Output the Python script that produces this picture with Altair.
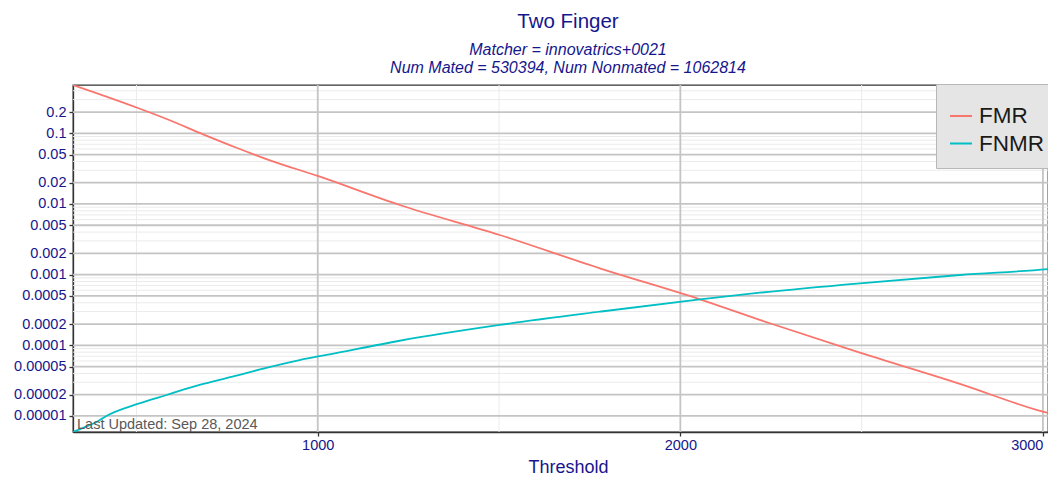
import altair as alt
import pandas as pd

# ---- data ----
fmr_threshold = [325, 504, 592, 684, 776, 868, 1000, 1226, 1502, 1778, 2054, 2247, 2495,
                 2771, 3000, 3036, 3055]
fmr_value = [0.482, 0.228, 0.153, 0.0968, 0.0625, 0.0415, 0.0249, 0.00967, 0.00364,
             0.00123, 0.000448, 0.000205, 0.0000786, 0.0000284, 0.0000115, 0.0000103, 0.0000094]

fnmr_threshold = [325, 352, 390, 417, 503, 583, 674, 765, 858, 950, 1033, 1226, 1502, 1778,
                  2054, 2219, 2495, 2771, 3036, 3055]
fnmr_value = [0.00000595, 0.00000676, 0.00000822, 0.0000100, 0.0000148, 0.0000198, 0.0000275,
              0.0000360, 0.0000480, 0.0000619, 0.0000746, 0.000116, 0.000194, 0.000299,
              0.000448, 0.000555, 0.000754, 0.000988, 0.00123, 0.00126]

series_names = ["FMR", "FNMR"]
series_colors = ["#F8766D", "#00BFC4"]

y_tick_values = [0.00001, 0.00002, 0.00005, 0.0001, 0.0002, 0.0005, 0.001, 0.002,
                 0.005, 0.01, 0.02, 0.05, 0.1, 0.2]
y_minor_values = [0.00003, 0.00004, 0.00006, 0.00007, 0.00008, 0.00009,
                  0.0003, 0.0004, 0.0006, 0.0007, 0.0008, 0.0009,
                  0.003, 0.004, 0.006, 0.007, 0.008, 0.009,
                  0.03, 0.04, 0.06, 0.07, 0.08, 0.09,
                  0.3, 0.4]
x_tick_values = [1000, 2000, 3000]
x_minor_values = [500, 1500, 2500]

x_domain = [325, 3014]
y_domain = [0.00000593, 0.4826]

title_text = "Two Finger"
subtitle_lines = ["Matcher = innovatrics+0021", "Num Mated = 530394, Num Nonmated = 1062814"]
footnote = ["Last Updated: Sep 28, 2024"]

FONT = "Liberation Sans"
NAVY = "#16168c"

df = pd.concat([
    pd.DataFrame({"threshold": fmr_threshold, "value": fmr_value, "series": "FMR"}),
    pd.DataFrame({"threshold": fnmr_threshold, "value": fnmr_value, "series": "FNMR"}),
])

xscale = alt.Scale(domain=x_domain, nice=False, zero=False)
yscale = alt.Scale(type="log", domain=y_domain, nice=False)

x_axis = alt.Axis(values=x_tick_values, format="d", grid=False, title="Threshold",
                  labelFont=FONT, labelFontSize=14.5, labelColor=NAVY, labelPadding=2,
                  labelFlush=15,
                  tickColor="#333333", tickSize=4, tickWidth=1.3,
                  domainColor="#333333", domainWidth=1.3,
                  titleFont=FONT, titleFontSize=18, titleFontWeight="normal",
                  titleColor=NAVY, titlePadding=7, titleX=495)
y_axis = alt.Axis(values=y_tick_values, format=".5~f", grid=False, title=None,
                  labelFont=FONT, labelFontSize=14.5, labelColor=NAVY, labelPadding=3,
                  tickColor="#333333", tickSize=4, tickWidth=1.3,
                  domainColor="#333333", domainWidth=1.3)

minor_y = alt.Chart(pd.DataFrame({"v": y_minor_values})).mark_rule(
    color="#ebebeb", strokeWidth=1).encode(y=alt.Y("v:Q", scale=yscale, axis=y_axis))
minor_x = alt.Chart(pd.DataFrame({"t": x_minor_values})).mark_rule(
    color="#ebebeb", strokeWidth=1).encode(x=alt.X("t:Q", scale=xscale, axis=x_axis))
major_y = alt.Chart(pd.DataFrame({"v": y_tick_values})).mark_rule(
    color="#c4c4c4", strokeWidth=1.8).encode(y=alt.Y("v:Q", scale=yscale, axis=y_axis))
major_x = alt.Chart(pd.DataFrame({"t": x_tick_values})).mark_rule(
    color="#c4c4c4", strokeWidth=1.8).encode(x=alt.X("t:Q", scale=xscale, axis=x_axis))

lines = alt.Chart(df).mark_line(strokeWidth=1.8, clip=True, interpolate="monotone").encode(
    x=alt.X("threshold:Q", scale=xscale, axis=x_axis),
    y=alt.Y("value:Q", scale=yscale, axis=y_axis),
    color=alt.Color("series:N", scale=alt.Scale(domain=series_names, range=series_colors),
                    legend=alt.Legend(title=" ", orient="none", legendX=863, legendY=-1,
                                      fillColor="#e5e5e5", strokeColor="#b8b8b8",
                                      padding=13, symbolType="stroke", symbolSize=484,
                                      symbolStrokeWidth=2, labelFont=FONT, labelFontSize=22.5,
                                      labelColor="#1a1a1a", labelOffset=6, rowPadding=3.5,
                                      titleFontSize=6, titlePadding=1)),
)

note = alt.Chart(pd.DataFrame({"label": footnote})).mark_text(
    align="left", baseline="alphabetic", font=FONT, fontSize=14.5, color="#595959"
).encode(text="label:N", x=alt.value(4), y=alt.value(344.3))

chart = alt.layer(minor_y, minor_x, major_y, major_x, lines, note).properties(
    width=975, height=347,
    autosize=alt.AutoSizeParams(type="none"),
    padding={"left": 65, "top": 77, "right": 0, "bottom": 46},
    title=alt.TitleParams(text=title_text, subtitle=subtitle_lines, anchor="middle", frame="group",
                          dx=7.5,
                          font=FONT, fontSize=20.5, fontWeight="normal", color=NAVY,
                          subtitleFont=FONT, subtitleFontSize=16, subtitleFontStyle="italic",
                          subtitleColor=NAVY, subtitleLineHeight=18, subtitlePadding=9, offset=8),
).configure_view(stroke="#333333", strokeWidth=1.3)

chart.save("out.html", embed_options={"renderer": "svg", "actions": False})
